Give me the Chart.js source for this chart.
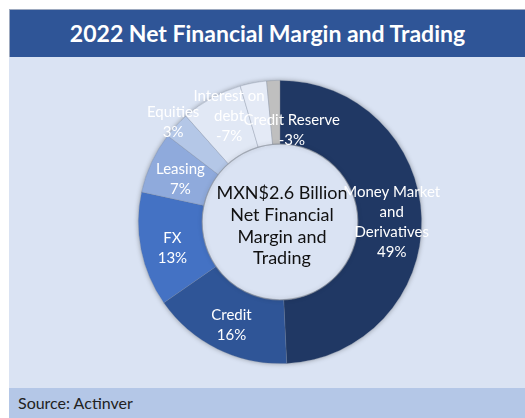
<!DOCTYPE html>
<html>
<head>
<meta charset="utf-8">
<script src="https://cdn.jsdelivr.net/npm/chart.js@4.4.1/dist/chart.umd.min.js"></script>
<style>
  body { margin: 0; background: #fff; font-family: Lato, "Open Sans", sans-serif; }
  .frame { position: absolute; left: 9px; top: 9px; width: 516px; height: 409px; background: #DAE3F3; }
  .title { position: absolute; left: 0; top: 0; width: 516px; height: 48px; background: #2F5597;
           border-top: 1px solid #9DA9BF; border-left: 1px solid #9DA9BF; box-sizing: border-box;
           color: #fff; font-weight: 700; font-size: 23px; line-height: 46px; text-align: center; }
  .footer { position: absolute; left: 0; top: 379px; width: 516px; height: 30px; background: #B4C7E7;
            color: #222; font-size: 16px; line-height: 30px; padding-left: 9px; box-sizing: border-box; }
  .plot { position: absolute; left: 0; top: 48px; width: 516px; height: 331px; }
</style>
</head>
<body>
<div class="frame">
  <div class="title">2022 Net Financial Margin and Trading</div>
  <div class="plot"><canvas id="chart"></canvas></div>
  <div class="footer">Source: Actinver</div>
</div>
<script>
const categories = [
  ['Money Market', 'and', 'Derivatives'],
  ['Credit'], ['FX'], ['Leasing'], ['Equities'],
  ['Interest on', 'debt'],
  ['Credit Reserve'],
  []
];
const shares = [49, 16, 13, 7, 3, 7, 3, 1.5];
const shareLabels = ['49%', '16%', '13%', '7%', '3%', '-7%', '-3%', ''];
const centerLines = ['MXN$2.6 Billion', 'Net Financial', 'Margin and', 'Trading'];

const colors = ['#203864', '#2F5597', '#4472C4', '#8FAADC', '#B4C7E7', '#E1E8F5', '#E4EAF6', '#BFBFBF'];

// radial factor and nudges for each slice label, like Excel's placement
const labelPlace = [
  { r: 1, dx: 2, dy: 0 },
  { r: 1, dx: 0, dy: 2 },
  { r: 1, dx: 0, dy: 2 },
  { r: 1, dx: 0, dy: 0 },
  { r: 1.38, dx: 4, dy: 0 },
  { r: 1.11, dx: 8, dy: -2 },
  { r: 0.88, dx: 30, dy: 0 },
  { r: 1, dx: 0, dy: 0 }
];

const sliceLabels = {
  id: 'sliceLabels',
  beforeDatasetsDraw(chart) {
    const arc = chart.getDatasetMeta(0).data[0];
    if (!arc) return;
    const ctx = chart.ctx;
    ctx.save();
    ctx.beginPath();
    ctx.arc(arc.x, arc.y, arc.outerRadius, 0, Math.PI * 2);
    ctx.shadowColor = 'rgba(0,0,0,0.35)';
    ctx.shadowBlur = 5;
    ctx.fillStyle = '#DAE3F3';
    ctx.fill();
    ctx.restore();
  },
  afterDatasetsDraw(chart) {
    const ctx = chart.ctx;
    const arcs = chart.getDatasetMeta(0).data;
    const a0 = arcs[0];
    // soft rim round the hole
    ctx.save();
    ctx.beginPath();
    ctx.arc(a0.x, a0.y, a0.innerRadius, 0, Math.PI * 2);
    ctx.strokeStyle = 'rgba(140,145,155,0.55)';
    ctx.lineWidth = 1.2;
    ctx.shadowColor = 'rgba(0,0,0,0.35)';
    ctx.shadowBlur = 4;
    ctx.stroke();
    ctx.restore();

    ctx.save();
    ctx.textAlign = 'center';
    ctx.textBaseline = 'middle';
    ctx.fillStyle = '#fff';
    ctx.font = '15px Lato, "Open Sans", sans-serif';
    const lh = 20;
    arcs.forEach((a, i) => {
      const lines = categories[i].concat(shareLabels[i] ? [shareLabels[i]] : []);
      if (!lines.length) return;
      const p = labelPlace[i];
      const mid = (a.startAngle + a.endAngle) / 2;
      const r = (a.innerRadius + a.outerRadius) / 2 * p.r;
      const x = a.x + Math.cos(mid) * r + p.dx;
      const y = a.y + Math.sin(mid) * r + p.dy + 3;
      const top = y - (lines.length - 1) * lh / 2;
      lines.forEach((t, k) => ctx.fillText(t, x, top + k * lh));
    });

    ctx.fillStyle = '#111';
    ctx.font = '18px Lato, "Open Sans", sans-serif';
    const clh = 21.7;
    const ctop = a0.y + 4 - (centerLines.length - 1) * clh / 2;
    centerLines.forEach((t, k) => ctx.fillText(t, a0.x + 2, ctop + k * clh));
    ctx.restore();
  }
};

new Chart(document.getElementById('chart'), {
  type: 'doughnut',
  data: {
    labels: categories,
    datasets: [{
      data: shares,
      backgroundColor: colors,
      borderColor: 'rgba(110,120,140,0.35)',
      borderWidth: 0.8
    }]
  },
  options: {
    responsive: true,
    maintainAspectRatio: false,
    animation: false,
    cutout: '55%',
    layout: { padding: { top: 23, bottom: 24, left: 129, right: 103 } },
    plugins: { legend: { display: false }, tooltip: { enabled: false } }
  },
  plugins: [sliceLabels]
});
</script>
</body>
</html>
